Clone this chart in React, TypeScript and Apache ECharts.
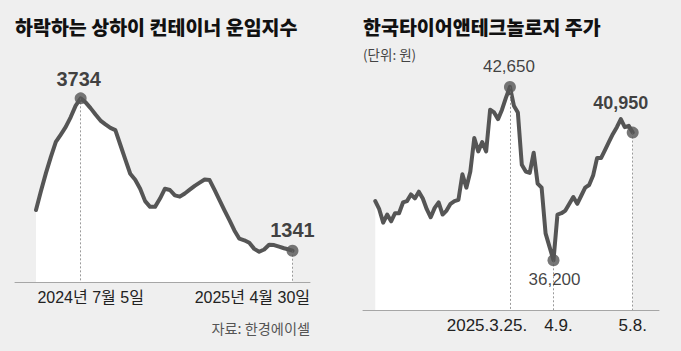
import React, { useEffect, useRef } from 'react';
import * as echarts from 'echarts';

// ---------- data: left chart (SCFI) ----------
const scfiTitle = '하락하는 상하이 컨테이너 운임지수';
const scfiSource = '자료: 한경에이셀';
const scfiDates = [
  '2024-05-03', '2024-05-10', '2024-05-17', '2024-05-24', '2024-05-31',
  '2024-06-07', '2024-06-14', '2024-06-21', '2024-06-28',
  '2024-07-05', '2024-07-12', '2024-07-19', '2024-07-26',
  '2024-08-02', '2024-08-09', '2024-08-16', '2024-08-23', '2024-08-30',
  '2024-09-06', '2024-09-13', '2024-09-20', '2024-09-27',
  '2024-10-04', '2024-10-11', '2024-10-18', '2024-10-25',
  '2024-11-01', '2024-11-08', '2024-11-15', '2024-11-22', '2024-11-29',
  '2024-12-06', '2024-12-13', '2024-12-20', '2024-12-27',
  '2025-01-03', '2025-01-10', '2025-01-17', '2025-01-24', '2025-01-31',
  '2025-02-07', '2025-02-14', '2025-02-21', '2025-02-28',
  '2025-03-07', '2025-03-14', '2025-03-21', '2025-03-28',
  '2025-04-04', '2025-04-11', '2025-04-18', '2025-04-25', '2025-04-30',
];
const scfiValues = [
  1980, 2280, 2560, 2815, 3050,
  3165, 3285, 3440, 3620,
  3734, 3670, 3580, 3480,
  3385, 3325, 3270, 3235, 3005,
  2775, 2550, 2455, 2315,
  2120, 2030, 2030, 2160,
  2315, 2295, 2210, 2190, 2240,
  2300, 2360, 2410, 2460,
  2450, 2295, 2135, 1975, 1820,
  1660, 1530, 1505, 1465,
  1370, 1325, 1360, 1435,
  1430, 1405, 1380, 1360, 1341,
];
const scfiTickDates = ['2024-07-05', '2025-04-30'];
const scfiTickLabels = ['2024년 7월 5일', '2025년 4월 30일'];
const scfiMarked = [9, 52];

// ---------- data: right chart (stock price, per trading session) ----------
const stockTitle = '한국타이어앤테크놀로지 주가';
const stockUnit = '(단위: 원)';
const stockValues = [
  38400, 38100, 37600, 37900, 37650, 37950, 37950, 38350, 38400, 38650,
  38500, 38750, 38500, 38100, 37800, 38150, 38350, 37900, 38050, 38300,
  38400, 38450, 39400, 38900, 39500, 40750, 40250, 40600, 40250, 41800,
  41700, 41450, 41800, 42250, 42650, 41950, 41700, 39750, 39500, 39450,
  40200, 39050, 38900, 37200, 36700, 36200, 37900, 37950, 38050, 38300,
  38550, 38300, 38600, 38900, 39000, 39350, 40000, 40000, 40300, 40600,
  40900, 41150, 41450, 41150, 41200, 40950,
];
const stockTickIdx = [34, 45, 65];
const stockTickLabels = ['2025.3.25.', '4.9.', '5.8.'];
const stockMarked = [34, 45, 65];

// ---------- styling / layout ----------
const BG = '#efefef';
const LINE = '#555555';
const AXIS = '#a6a6a6';
const DASH = '#9a9a9a';
const KR = "'Noto Sans CJK KR', sans-serif";
const NUM = "'Liberation Sans', 'Noto Sans CJK KR', sans-serif";
const DAY = 86400000;
const L_YMIN = 850;
const L_YMAX = 4650;
const R_YMIN = 34350;
const R_YMAX = 43650;

const scfiLabelOffsets = [[-2, 2], [0, 0]];
const scfiTickDx = [10, 17.5];
const scfiTickAlign = ['center', 'right'];
const stockLabelPos = ['top', 'bottom', 'top'];
const stockLabelOffsets = [[-1, -1], [1, 0], [-12, -10]];
const stockLabelWeight = ['normal', 'normal', 'bold'];
const stockLabelSize = [17, 17, 18];
const stockTickDx = [-23, 5, 0];

const ts = (s: string) => {
  const [y, m, d] = s.split('-').map(Number);
  return Date.UTC(y, m - 1, d);
};
const fmt = (v: number) => v.toLocaleString('en-US');

const txt = (x: number, y: number, text: string, o: any = {}) => ({
  type: 'text',
  x,
  y,
  silent: true,
  style: {
    text,
    fill: o.fill || '#222',
    fontSize: o.size || 14,
    fontFamily: o.family || KR,
    fontWeight: o.weight || 'normal',
    align: o.align || 'left',
    textAlign: o.align || 'left',
    verticalAlign: 'middle',
    textVerticalAlign: 'middle',
  },
});

export default function App() {
  const ref = useRef<HTMLDivElement>(null);

  useEffect(() => {
    if (!ref.current) return;
    const chart = echarts.init(ref.current, null, { renderer: 'svg' });
    const t0 = ts(scfiDates[0]);

    const xBase = {
      axisLine: { show: true, onZero: false, lineStyle: { color: AXIS, width: 1 } },
      axisTick: { show: false },
      axisLabel: { show: false },
      splitLine: { show: false },
      z: 5,
    };

    const option: any = {
      animation: false,
      backgroundColor: BG,
      grid: [
        { left: 15, width: 295, top: 40, height: 242 },
        { left: 363, width: 296, top: 60, height: 250 },
      ],
      xAxis: [
        { type: 'time', gridIndex: 0, min: t0 - 29.64 * DAY, max: t0 + 386.7 * DAY, ...xBase },
        { type: 'value', gridIndex: 1, min: -3.1, max: 71.64, ...xBase },
      ],
      yAxis: [
        { type: 'value', gridIndex: 0, min: L_YMIN, max: L_YMAX, show: false, splitLine: { show: false } },
        { type: 'value', gridIndex: 1, min: R_YMIN, max: R_YMAX, show: false, splitLine: { show: false } },
      ],
      series: [
        {
          type: 'line',
          xAxisIndex: 0,
          yAxisIndex: 0,
          data: scfiDates.map((d, i) => [ts(d), scfiValues[i]]),
          symbol: 'none',
          lineStyle: { color: LINE, width: 4, join: 'round', cap: 'round' },
          areaStyle: { color: '#ffffff', opacity: 1, origin: 'start' },
          markLine: {
            silent: true,
            symbol: ['none', 'none'],
            label: { show: false },
            lineStyle: { type: [2, 2], color: DASH, width: 1 },
            data: scfiMarked.map((i) => [
              { coord: [ts(scfiDates[i]), scfiValues[i]] },
              { coord: [ts(scfiDates[i]), L_YMIN] },
            ]),
          },
        },
        {
          type: 'scatter',
          xAxisIndex: 0,
          yAxisIndex: 0,
          z: 10,
          symbolSize: 12,
          itemStyle: { color: LINE },
          label: {
            show: true,
            position: 'top',
            fontFamily: NUM,
            fontWeight: 'bold',
            fontSize: 20,
            color: '#111',
            formatter: (p: any) => String(p.value[1]),
          },
          data: scfiMarked.map((i, k) => ({
            value: [ts(scfiDates[i]), scfiValues[i]],
            label: { offset: scfiLabelOffsets[k] },
          })),
        },
        {
          type: 'line',
          xAxisIndex: 1,
          yAxisIndex: 1,
          data: stockValues.map((v, i) => [i, v]),
          symbol: 'none',
          lineStyle: { color: LINE, width: 4, join: 'round', cap: 'round' },
          areaStyle: { color: '#ffffff', opacity: 1, origin: 'start' },
          markLine: {
            silent: true,
            symbol: ['none', 'none'],
            label: { show: false },
            lineStyle: { type: [2, 2], color: DASH, width: 1 },
            data: stockMarked.map((i) => [
              { coord: [i, stockValues[i]] },
              { coord: [i, R_YMIN] },
            ]),
          },
        },
        {
          type: 'scatter',
          xAxisIndex: 1,
          yAxisIndex: 1,
          z: 10,
          symbolSize: 12,
          itemStyle: { color: LINE },
          label: {
            show: true,
            fontFamily: NUM,
            color: '#111',
            formatter: (p: any) => fmt(p.value[1]),
          },
          data: stockMarked.map((i, k) => ({
            value: [i, stockValues[i]],
            label: {
              position: stockLabelPos[k],
              offset: stockLabelOffsets[k],
              fontWeight: stockLabelWeight[k],
              fontSize: stockLabelSize[k],
            },
          })),
        },
      ],
    };
    chart.setOption(option);

    const g: any[] = [];
    g.push(txt(15, 26.5, scfiTitle, { size: 19.5, weight: 900, fill: '#111' }));
    g.push(txt(363, 26.5, stockTitle, { size: 19.5, weight: 900, fill: '#111' }));
    g.push(txt(363, 54, stockUnit, { size: 13.5, fill: '#444' }));
    g.push(txt(310, 327.5, scfiSource, { size: 14.2, fill: '#555', align: 'right' }));
    scfiTickDates.forEach((d, k) => {
      const p = chart.convertToPixel({ gridIndex: 0 }, [ts(d), L_YMIN]) as number[];
      g.push(txt(p[0] + scfiTickDx[k], 297, scfiTickLabels[k], { size: 16, family: NUM, fill: '#222', align: scfiTickAlign[k] }));
    });
    stockTickIdx.forEach((i, k) => {
      const p = chart.convertToPixel({ gridIndex: 1 }, [i, R_YMIN]) as number[];
      g.push(txt(p[0] + stockTickDx[k], 325, stockTickLabels[k], { size: 17, family: NUM, fill: '#222', align: 'center' }));
    });
    chart.setOption({ graphic: { elements: g } });

    return () => chart.dispose();
  }, []);

  return (
    <div
      ref={ref}
      style={{ position: 'fixed', left: 0, top: 0, width: 681, height: 351, background: BG }}
    />
  );
}
